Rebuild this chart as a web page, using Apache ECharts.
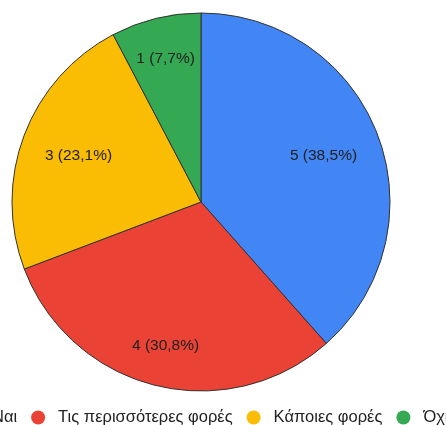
<!DOCTYPE html>
<html>
<head>
<meta charset="utf-8">
<script src="https://cdn.jsdelivr.net/npm/echarts@6/dist/echarts.min.js"></script>
<style>
  html, body { margin: 0; padding: 0; background: #fff; }
  #chart { width: 446px; height: 425px; }
</style>
</head>
<body>
<div id="chart"></div>
<script>
// Answer categories and response counts
const categories = ['Ναι', 'Τις περισσότερες φορές', 'Κάποιες φορές', 'Όχι'];
const counts = [5, 4, 3, 1];
const sliceColors = ['#4285F4', '#EA4335', '#FBBC04', '#34A853'];
// Which slices get their label drawn on the outer (1) or inner (0) label ring
const labelRing = [0, 1, 0, 1];

const FONT = 'Arial, "Liberation Sans", sans-serif';
const CENTER = [201, 202];
const RADIUS = 189;
const total = counts.reduce((a, b) => a + b, 0);

const pieData = categories.map((name, i) => ({
  name: name,
  value: counts[i],
  itemStyle: { color: sliceColors[i] }
}));

// "5 (38,5%)" – each share rounded on its own, decimal comma
function labelText(p) {
  const pct = (p.value / total * 100).toFixed(1).replace('.', ',');
  return p.value + ' (' + pct + '%)';
}

// Transparent ring that only carries labels at the middle of [r0, RADIUS]
function labelSeries(r0, ring) {
  return {
    type: 'pie',
    center: CENTER,
    radius: [r0, RADIUS],
    silent: true,
    legendHoverLink: false,
    tooltip: { show: false },
    emphasis: { disabled: true },
    itemStyle: { color: 'rgba(0,0,0,0)', borderWidth: 0 },
    labelLine: { show: false },
    data: categories.map((name, i) => ({
      name: name,
      value: counts[i],
      label: { show: labelRing[i] === ring }
    })),
    label: {
      position: 'inside',
      formatter: labelText,
      color: '#222',
      fontFamily: FONT,
      fontSize: 15.5
    }
  };
}

const chart = echarts.init(document.getElementById('chart'), null, { renderer: 'canvas' });
chart.setOption({
  animation: false,
  backgroundColor: '#fff',
  legend: {
    orient: 'horizontal',
    left: -35,
    top: 409,
    width: 800,
    padding: 0,
    itemWidth: 30,
    itemHeight: 14,
    itemGap: 14,
    icon: 'circle',
    itemStyle: { borderWidth: 0 },
    data: categories,
    textStyle: { color: '#222', fontFamily: FONT, fontSize: 16.5 }
  },
  series: [
    {
      type: 'pie',
      center: CENTER,
      radius: [0, RADIUS],
      startAngle: 90,
      clockwise: true,
      label: { show: false },
      labelLine: { show: false },
      emphasis: { disabled: true },
      itemStyle: { borderColor: '#333', borderWidth: 1 },
      data: pieData
    },
    labelSeries(67, 0),
    labelSeries(101, 1)
  ]
});
</script>
</body>
</html>
